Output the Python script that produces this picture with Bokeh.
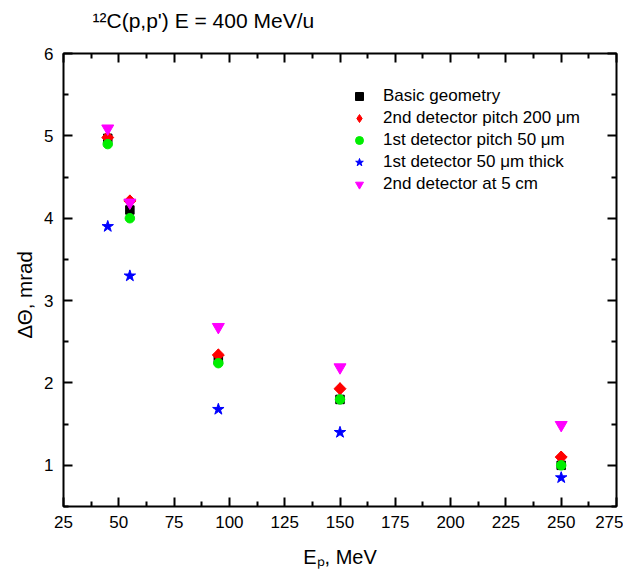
import math
from bokeh.plotting import figure
from bokeh.models import (Range1d, LinearAxis, FixedTicker, Legend, LegendItem,
                          Title, CustomJSTickFormatter)
from bokeh.embed import file_html
from bokeh.resources import INLINE

# ---------------- data ----------------
energy = [45, 55, 95, 150, 250]
basic_geometry = [4.97, 4.10, 2.28, 1.80, 1.00]
pitch200_2nd = [4.98, 4.21, 2.34, 1.93, 1.10]
pitch50_1st = [4.90, 4.00, 2.24, 1.80, 1.00]
thick50_1st = [3.90, 3.30, 1.68, 1.40, 0.85]
at5cm_2nd = [5.09, 4.19, 2.68, 2.19, 1.49]

series_names = ["Basic geometry",
                "2nd detector pitch 200 \u03bcm",
                "1st detector pitch 50 \u03bcm",
                "1st detector 50 \u03bcm thick",
                "2nd detector at 5 cm"]

x_ticks = [25, 50, 75, 100, 125, 150, 175, 200, 225, 250, 275]
x_minor = [37.5, 62.5, 87.5, 112.5, 137.5, 162.5, 187.5, 212.5, 237.5, 262.5]
y_ticks = [1, 2, 3, 4, 5, 6]
y_minor = [0.5, 1.5, 2.5, 3.5, 4.5, 5.5]

title_text = "\u00b9\u00b2C(p,p') E = 400 MeV/u"
xlabel_text = "E\u209a, MeV"
ylabel_text = "\u0394\u0398, mrad"

FONT = "Liberation Sans"

# ---------------- figure ----------------
FL, FT, FW, FH = 63, 53, 553, 453
W, H = 623, 569
p = figure(frame_width=FW, frame_height=FH,
           min_border_left=FL, min_border_right=W - FL - FW,
           min_border_top=FT, min_border_bottom=H - FT - FH,
           x_range=Range1d(25, 275), y_range=Range1d(0.5, 6),
           x_axis_type=None, y_axis_type=None,
           output_backend="svg", toolbar_location=None)
p.outline_line_color = "black"
p.outline_line_width = 2
p.background_fill_color = "white"
p.border_fill_color = "white"

xt = FixedTicker(ticks=x_ticks, minor_ticks=x_minor)
yt = FixedTicker(ticks=y_ticks, minor_ticks=y_minor)


def style_axis(ax, standoff):
    ax.axis_line_color = None
    ax.major_tick_in = 9
    ax.major_tick_out = 0
    ax.minor_tick_in = 5
    ax.minor_tick_out = 0
    ax.major_tick_line_width = 2
    ax.minor_tick_line_width = 2
    ax.major_tick_line_color = "black"
    ax.minor_tick_line_color = "black"
    ax.major_label_text_font = FONT
    ax.major_label_text_color = "black"
    ax.major_label_text_font_size = "17px"
    ax.major_label_standoff = standoff
    ax.axis_label_text_font = FONT
    ax.axis_label_text_font_style = "normal"
    ax.axis_label_text_color = "black"
    ax.axis_label_text_font_size = "20px"


bx = LinearAxis(ticker=xt); style_axis(bx, 9)
bx.axis_label = xlabel_text
bx.axis_label_standoff = 15
p.add_layout(bx, "below")

# mirrored ticks on top: blank 1px spacer labels give the top panel some
# height so that the title sits higher above the frame
tx = LinearAxis(ticker=xt); style_axis(tx, 16)
tx.formatter = CustomJSTickFormatter(code="return '\u00a0'")
tx.major_label_text_font_size = "1px"
tx.major_label_text_color = "white"
p.add_layout(tx, "above")

ly = LinearAxis(ticker=yt); style_axis(ly, 10); p.add_layout(ly, "left")
ry = LinearAxis(ticker=yt); style_axis(ry, 0)
ry.formatter = CustomJSTickFormatter(code="return ''")
ry.major_label_text_color = None
p.add_layout(ry, "right")

p.title = Title(text=title_text, align="left", offset=29, standoff=4,
                text_font=FONT, text_font_size="21px", text_font_style="normal",
                text_color="black")
p.add_layout(Title(text=ylabel_text, align="left", offset=168, standoff=12,
                   text_font=FONT, text_font_size="20.5px", text_font_style="normal",
                   text_color="black"), "left")

# ---------------- markers ----------------
r1 = p.scatter(energy, basic_geometry, marker="square", size=8.5,
               fill_color="black", line_color="black")
# diamond key glyphs of the 200 um series (used by the legend, which never
# rotates markers); they sit completely under the rotated squares below
r2_key = p.scatter(energy, pitch200_2nd, marker="diamond", size=12,
                   fill_color="red", line_color="red")
r2 = p.scatter(energy, pitch200_2nd, marker="square", size=8.5, angle=math.pi / 4,
               fill_color="red", line_color="red")
r3 = p.scatter(energy, pitch50_1st, marker="circle", size=9.5,
               fill_color="#00ee00", line_color="#00ee00")
r4 = p.scatter(energy, thick50_1st, marker="star", size=12,
               fill_color="blue", line_color="blue")
r5 = p.scatter(energy, at5cm_2nd, marker="inverted_triangle", size=12,
               fill_color="magenta", line_color="magenta")

legend = Legend(items=[LegendItem(label=n, renderers=[r])
                       for n, r in zip(series_names, [r1, r2_key, r3, r4, r5])],
                location=(286, 312), padding=5, spacing=2,
                glyph_width=20, glyph_height=20, label_height=20,
                label_standoff=14, margin=0,
                label_text_font=FONT, label_text_font_size="17px",
                label_text_color="black",
                border_line_color=None, background_fill_alpha=0)
p.add_layout(legend, "center")

open("out.html", "w").write(file_html(p, INLINE))
